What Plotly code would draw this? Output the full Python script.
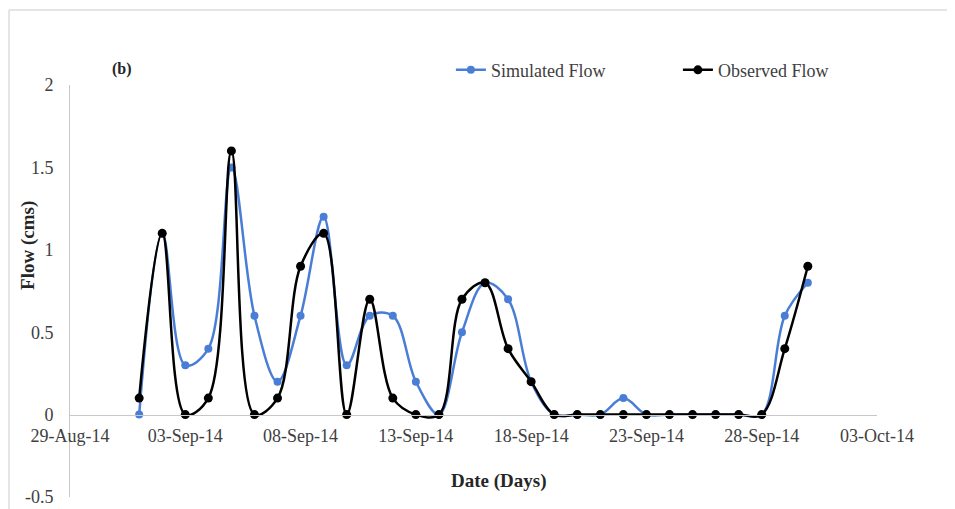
import plotly.graph_objects as go
import pandas as pd

dates = pd.date_range("2014-09-01", "2014-09-30", freq="D").strftime("%Y-%m-%d").tolist()
simulated = [0.0, 1.1, 0.3, 0.4, 1.5, 0.6, 0.2, 0.6, 1.2, 0.3,
             0.6, 0.6, 0.2, 0.0, 0.5, 0.8, 0.7, 0.2, 0.0, 0.0,
             0.0, 0.1, 0.0, 0.0, 0.0, 0.0, 0.0, 0.0, 0.6, 0.8]
observed = [0.1, 1.1, 0.0, 0.1, 1.6, 0.0, 0.1, 0.9, 1.1, 0.0,
            0.7, 0.1, 0.0, 0.0, 0.7, 0.8, 0.4, 0.2, 0.0, 0.0,
            0.0, 0.0, 0.0, 0.0, 0.0, 0.0, 0.0, 0.0, 0.4, 0.9]
y_ticks = [-0.5, 0, 0.5, 1, 1.5, 2]
y_ticktext = ["-0.5", "0", "0.5", "1", "1.5", "2"]

SERIF = "Liberation Serif, Times New Roman, serif"
BLUE = "#4a7ed6"

# plot-area geometry in screenshot pixels (used only to place the frame lines)
PL, PW, PT, PH = 70, 807, 85, 412


def px_x(x):
    return (x - PL) / PW


def px_y(y):
    return 1 + (PT - y) / PH


fig = go.Figure()
fig.add_trace(go.Scatter(x=dates, y=simulated, name="Simulated Flow", mode="lines+markers",
                         line=dict(color=BLUE, width=2.5, shape="spline"),
                         marker=dict(color=BLUE, size=8)))
fig.add_trace(go.Scatter(x=dates, y=observed, name="Observed Flow", mode="lines+markers",
                         line=dict(color="black", width=2.5, shape="spline"),
                         marker=dict(color="black", size=9)))

fig.update_layout(
    width=955, height=509,
    margin=dict(l=62, r=86, t=77, b=20, autoexpand=False),
    paper_bgcolor="white", plot_bgcolor="white",
    font=dict(family=SERIF, size=18, color="#404040"),
    showlegend=True,
    legend=dict(orientation="h", x=0.472, y=1.036, xanchor="left", yanchor="middle",
                entrywidth=182, entrywidthmode="pixels",
                font=dict(family=SERIF, size=18, color="#404040"),
                bgcolor="rgba(0,0,0,0)"),
    xaxis=dict(type="date", range=["2014-08-29", "2014-10-03"],
               tick0="2014-08-29", dtick=5 * 86400000, tickformat="%d-%b-%y",
               anchor="free", position=0.2, automargin=False,
               showline=True, linecolor="#c8c8c8", linewidth=1,
               showgrid=False, zeroline=False,
               ticks="outside", ticklen=5, tickcolor="rgba(0,0,0,0)",
               tickfont=dict(family=SERIF, size=18, color="#404040")),
    yaxis=dict(range=[-0.5, 2], tickvals=y_ticks, ticktext=y_ticktext, automargin=False,
               showline=True, linecolor="#c8c8c8", linewidth=1,
               showgrid=False, zeroline=False,
               ticks="outside", ticklen=12, tickcolor="rgba(0,0,0,0)",
               tickfont=dict(family=SERIF, size=18, color="#404040")),
    annotations=[
        dict(text="<b>Date (Days)</b>", xref="paper", yref="paper", x=0.532, y=0.04,
             xanchor="center", yanchor="middle", showarrow=False,
             font=dict(family=SERIF, size=19, color="#262626")),
        dict(text="<b>Flow (cms)</b>", xref="paper", yref="paper", x=-0.053, y=0.61,
             xanchor="center", yanchor="middle", showarrow=False, textangle=-90,
             font=dict(family=SERIF, size=19, color="#262626")),
        dict(text="<b>(b)</b>", xref="paper", yref="paper", x=0.065, y=1.04,
             xanchor="center", yanchor="middle", showarrow=False,
             font=dict(family=SERIF, size=16, color="#262626")),
    ],
    shapes=[
        dict(type="line", xref="paper", yref="paper", x0=px_x(0), x1=px_x(955),
             y0=px_y(2.5), y1=px_y(2.5), line=dict(color="#ececec", width=1.5)),
        dict(type="line", xref="paper", yref="paper", x0=px_x(9), x1=px_x(955),
             y0=px_y(10), y1=px_y(10), line=dict(color="#dcdcdc", width=1.5)),
        dict(type="line", xref="paper", yref="paper", x0=px_x(9), x1=px_x(9),
             y0=px_y(509), y1=px_y(10), line=dict(color="#dcdcdc", width=1.5)),
    ],
)

fig.write_html("out.html")
